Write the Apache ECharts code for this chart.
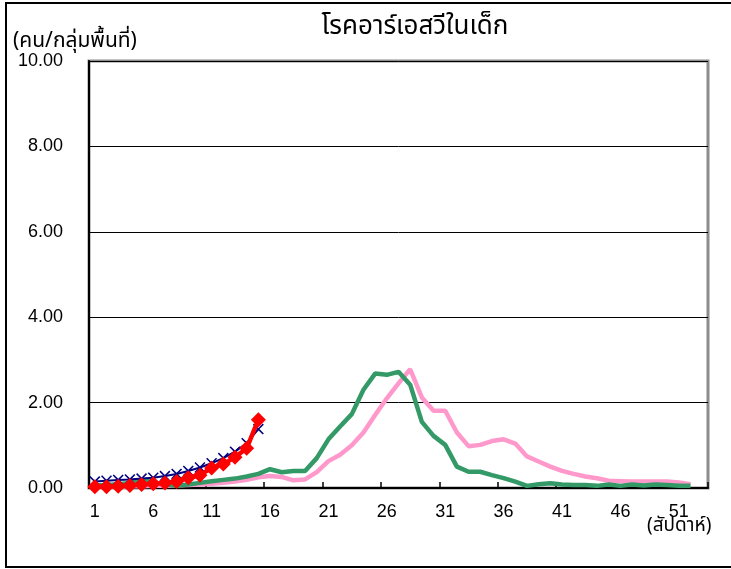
<!DOCTYPE html>
<html>
<head>
<meta charset="utf-8">
<script src="https://cdn.jsdelivr.net/npm/echarts@6/dist/echarts.min.js"></script>
<style>html,body{margin:0;padding:0;background:#fff}#c{width:731px;height:569px}</style>
</head>
<body>
<div id="c"></div>
<script>
const weeks = Array.from({length: 53}, (_, i) => String(i + 1));
const yTicks = [0, 2, 4, 6, 8, 10];
const pinkSeries = [0.03,0.03,0.03,0.04,0.04,0.05,0.05,0.06,0.07,0.08,0.10,0.12,0.15,0.19,0.25,0.28,0.26,0.18,0.20,0.37,0.63,0.78,1.00,1.30,1.71,2.10,2.45,2.78,2.12,1.81,1.81,1.30,0.98,1.01,1.10,1.14,1.04,0.74,0.62,0.50,0.40,0.33,0.27,0.23,0.17,0.16,0.15,0.15,0.15,0.15,0.13,0.09];
const greenSeries = [0.06,0.07,0.09,0.12,0.18,0.14,0.08,0.05,0.08,0.12,0.16,0.19,0.22,0.27,0.33,0.44,0.37,0.40,0.40,0.70,1.14,1.44,1.73,2.30,2.68,2.65,2.72,2.42,1.55,1.22,1.01,0.50,0.38,0.38,0.30,0.23,0.15,0.05,0.09,0.11,0.08,0.07,0.07,0.05,0.08,0.05,0.08,0.06,0.08,0.07,0.05,0.05];
const blueSeries = [0.15,0.17,0.19,0.20,0.22,0.24,0.28,0.33,0.40,0.48,0.58,0.70,0.85,1.05,1.38];
const redSeries = [0.03,0.03,0.04,0.06,0.08,0.10,0.12,0.15,0.24,0.30,0.47,0.56,0.72,0.93,1.60];

const thaiFont = "'Noto Sans Thai', 'Noto Sans Thai UI', Loma, Garuda, Tahoma, 'DejaVu Sans', sans-serif";
const numFont = "'Liberation Sans', Arial, sans-serif";
const xMark = 'path://M0,1L1,0L5,4L9,0L10,1L6,5L10,9L9,10L5,6L1,10L0,9L4,5Z';

const chart = echarts.init(document.getElementById('c'), null, {renderer: 'canvas'});
chart.setOption({
  animation: false,
  backgroundColor: '#fff',
  grid: {left: 89, right: 23, top: 61, bottom: 81, show: true, borderColor: '#8c8c8c', borderWidth: 3, backgroundColor: 'transparent'},
  graphic: [
    {type: 'rect', shape: {x: 6, y: 3, width: 740, height: 564}, style: {fill: 'none', stroke: '#000', lineWidth: 2}, z: -10},
    {type: 'text', style: {text: 'โรคอาร์เอสวีในเด็ก', font: '26px ' + thaiFont, fill: '#000', textAlign: 'center', textVerticalAlign: 'middle', x: 415, y: 29}},
    {type: 'text', style: {text: '(คน/กลุ่มพื้นที่)', font: '21px ' + thaiFont, fill: '#000', textAlign: 'left', textVerticalAlign: 'middle', x: 13, y: 43}},
    {type: 'text', style: {text: '(สัปดาห์)', font: '19px ' + thaiFont, fill: '#000', textAlign: 'left', textVerticalAlign: 'middle', x: 647, y: 527}}
  ],
  xAxis: {
    type: 'category', data: weeks, boundaryGap: true,
    axisLine: {lineStyle: {color: '#000', width: 2}},
    axisTick: {show: true, inside: true, interval: 4, length: 6, lineStyle: {color: '#000', width: 1.5}},
    axisLabel: {interval: 4, margin: 15, color: '#000', fontFamily: numFont, fontSize: 18},
    splitLine: {show: false}
  },
  yAxis: {
    type: 'value', min: yTicks[0], max: yTicks[yTicks.length - 1], interval: 2,
    axisLine: {show: true, lineStyle: {color: '#000', width: 2}},
    axisTick: {show: false},
    axisLabel: {margin: 26, color: '#000', fontFamily: numFont, fontSize: 18, formatter: v => v.toFixed(2)},
    splitLine: {show: true, lineStyle: {color: '#000', width: 1}}
  },
  series: [
    {type: 'line', data: pinkSeries, symbol: 'none', lineStyle: {color: '#ff99cc', width: 4.5}, z: 2},
    {type: 'line', data: greenSeries, symbol: 'none', lineStyle: {color: '#339966', width: 4.5}, z: 3},
    {type: 'line', data: blueSeries, symbol: xMark, symbolSize: 11, showAllSymbol: true, itemStyle: {color: '#000080'}, lineStyle: {color: '#000080', width: 2}, z: 4},
    {type: 'line', data: redSeries, symbol: 'diamond', symbolSize: 15, showAllSymbol: true, itemStyle: {color: '#ff0000'}, lineStyle: {color: '#ff0000', width: 4.5}, z: 5}
  ]
});
</script>
</body>
</html>
